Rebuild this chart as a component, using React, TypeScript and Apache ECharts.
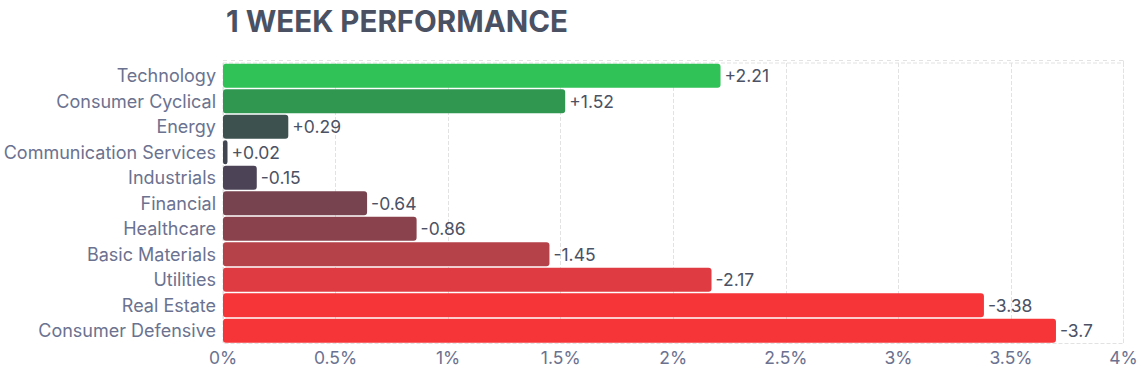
import React, { useEffect, useRef } from "react";
import * as echarts from "echarts";

const categories = [
  "Technology",
  "Consumer Cyclical",
  "Energy",
  "Communication Services",
  "Industrials",
  "Financial",
  "Healthcare",
  "Basic Materials",
  "Utilities",
  "Real Estate",
  "Consumer Defensive",
];
const values = [2.21, 1.52, 0.29, 0.02, -0.15, -0.64, -0.86, -1.45, -2.17, -3.38, -3.7];
const colors = [
  "#30c157",
  "#2f9750",
  "#3d524f",
  "#40454f",
  "#4c4356",
  "#77434f",
  "#8a434d",
  "#b54249",
  "#de3c42",
  "#f63538",
  "#f63538",
];
const xTicks = [0, 0.5, 1, 1.5, 2, 2.5, 3, 3.5, 4];

export default function App() {
  const ref = useRef<HTMLDivElement>(null);
  useEffect(() => {
    if (!ref.current) return;
    const chart = echarts.init(ref.current, undefined, { renderer: "svg" });
    const font = "Inter, 'Noto Sans', sans-serif";
    const gridColor = "#e2e2e2";
    chart.setOption({
      animation: false,
      title: {
        text: "1 WEEK PERFORMANCE",
        left: 221,
        top: 1,
        textStyle: { fontFamily: font, fontSize: 29.5, fontWeight: 700, color: "#4a5163" },
      },
      graphic: [
        {
          type: "line",
          shape: { x1: 223, y1: 60.5, x2: 1123.5, y2: 60.5 },
          style: { stroke: gridColor, lineWidth: 1, lineDash: [4, 4] },
          silent: true,
        },
        {
          type: "line",
          shape: { x1: 1123.5, y1: 60.5, x2: 1123.5, y2: 64 },
          style: { stroke: gridColor, lineWidth: 1 },
          silent: true,
        },
      ],
      grid: {
        left: 223,
        right: 17.5,
        top: 63,
        bottom: 28.5,
        show: true,
        borderColor: gridColor,
        borderWidth: 1,
        borderType: "dashed",
      },
      xAxis: {
        type: "value",
        min: 0,
        max: xTicks[xTicks.length - 1],
        interval: 0.5,
        axisLine: { show: false },
        axisTick: { show: false },
        splitLine: { show: true, lineStyle: { color: gridColor, type: "dashed" } },
        axisLabel: {
          formatter: (v: number) => `${v}%`,
          color: "#6b7290",
          fontFamily: font,
          fontSize: 17.5,
          margin: 5,
        },
      },
      yAxis: {
        type: "category",
        data: categories,
        inverse: true,
        axisLine: { show: false },
        axisTick: { show: false },
        axisLabel: { color: "#6b7290", fontFamily: font, fontSize: 18, margin: 7 },
      },
      series: [
        {
          type: "bar",
          barCategoryGap: "6%",
          data: values.map((v, i) => ({
            value: Math.abs(v),
            itemStyle: { color: colors[i], borderRadius: 3 },
          })),
          label: {
            show: true,
            position: "right",
            distance: 4,
            color: "#4b5265",
            fontFamily: font,
            fontSize: 17.5,
            formatter: (p: any) => {
              const v = values[p.dataIndex];
              return v > 0 ? `+${v}` : `${v}`;
            },
          },
        },
      ],
    });
    return () => chart.dispose();
  }, []);
  return (
    <div
      ref={ref}
      style={{ position: "absolute", left: 0, top: 0, width: 1141, height: 372 }}
    />
  );
}
